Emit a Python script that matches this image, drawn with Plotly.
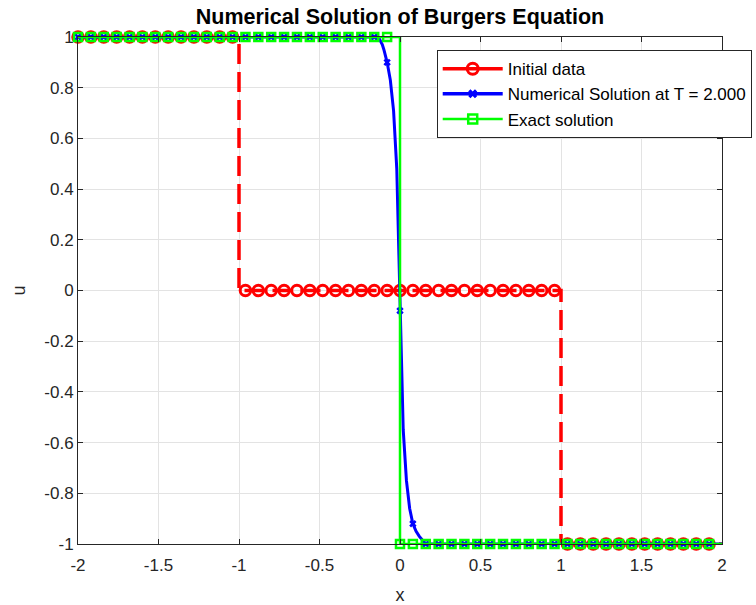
import numpy as np
import plotly.graph_objects as go

# Coarse grid where the markers sit (dx = 0.08, periodic domain [-2, 2))
grid_x = np.round(-2 + 0.08 * np.arange(50), 2)

# Initial data: Riemann-type step data
init_marker_u = [1.0] * 13 + [0.0] * 25 + [-1.0] * 12
init_line_x = [-2.0, -1.0, -1.0, 1.0, 1.0, 2.0]
init_line_u = [1.0, 1.0, 0.0, 0.0, -1.0, -1.0]

# Numerical solution at T = 2 (values on the coarse grid)
num_marker_u = [1.0] * 24 + [0.90, -0.08, -0.92] + [-1.0] * 23
# Resolved shock profile of the numerical solution
num_line_x = [-2.0, -0.16, -0.13, -0.11, -0.10, -0.08, -0.06, -0.04, -0.02,
              0.0, 0.02, 0.04, 0.06, 0.08, 0.10, 0.12, 0.14, 0.16, 2.0]
num_line_u = [1.0, 1.0, 0.995, 0.97, 0.95, 0.90, 0.83, 0.71, 0.48,
              -0.08, -0.55, -0.75, -0.86, -0.92, -0.95, -0.97, -0.985, -1.0, -1.0]

# Exact entropy solution at T = 2: stationary shock at x = 0
exact_marker_u = [1.0] * 25 + [-1.0] * 25
exact_line_x = [-2.0, 0.0, 0.0, 2.0]
exact_line_u = [1.0, 1.0, -1.0, -1.0]

x_ticks = [-2, -1.5, -1, -0.5, 0, 0.5, 1, 1.5, 2]
x_tick_text = ["-2", "-1.5", "-1", "-0.5", "0", "0.5", "1", "1.5", "2"]
y_ticks = [-1, -0.8, -0.6, -0.4, -0.2, 0, 0.2, 0.4, 0.6, 0.8, 1]
y_tick_text = ["-1", "-0.8", "-0.6", "-0.4", "-0.2", "0", "0.2", "0.4", "0.6", "0.8", "1"]

RED, BLUE, GREEN = "#ff0000", "#0000ff", "#00ff00"
AX = "#262626"
FONT = "Liberation Sans, Arial, Helvetica, sans-serif"

fig = go.Figure()

# Legend entries
fig.add_trace(go.Scatter(x=[None], y=[None], mode="lines+markers", name="Initial data",
                         line=dict(color=RED, width=3.5),
                         marker=dict(symbol="circle-open", size=11, color=RED, line=dict(width=3))))
fig.add_trace(go.Scatter(x=[None], y=[None], mode="lines+markers",
                         name="Numerical Solution at T = 2.000",
                         line=dict(color=BLUE, width=3.5),
                         marker=dict(symbol="x", size=8, color=BLUE)))
fig.add_trace(go.Scatter(x=[None], y=[None], mode="lines+markers", name="Exact solution",
                         line=dict(color=GREEN, width=2.5),
                         marker=dict(symbol="square-open", size=9, color=GREEN, line=dict(width=2.5))))

# Initial data
fig.add_trace(go.Scatter(x=init_line_x, y=init_line_u, mode="lines", showlegend=False,
                         line=dict(color=RED, width=3.5, dash="20px,8px"), cliponaxis=False))
fig.add_trace(go.Scatter(x=grid_x, y=init_marker_u, mode="markers", showlegend=False,
                         marker=dict(symbol="circle-open", size=10.5, color=RED, line=dict(width=3)),
                         cliponaxis=False))

# Numerical solution
fig.add_trace(go.Scatter(x=num_line_x, y=num_line_u, mode="lines", showlegend=False,
                         line=dict(color=BLUE, width=3), cliponaxis=False))
fig.add_trace(go.Scatter(x=grid_x, y=num_marker_u, mode="markers", showlegend=False,
                         marker=dict(symbol="x", size=6.5, color=BLUE), cliponaxis=False))

# Exact solution
fig.add_trace(go.Scatter(x=exact_line_x, y=exact_line_u, mode="lines", showlegend=False,
                         line=dict(color=GREEN, width=2.5), cliponaxis=False))
fig.add_trace(go.Scatter(x=grid_x, y=exact_marker_u, mode="markers", showlegend=False,
                         marker=dict(symbol="square-open", size=8, color=GREEN, line=dict(width=2.5)),
                         cliponaxis=False))

axis_common = dict(showline=True, linecolor=AX, linewidth=1, mirror="ticks",
                   ticks="inside", ticklen=5, tickcolor=AX, tickwidth=1,
                   showgrid=True, gridcolor="#e3e3e3", gridwidth=1, zeroline=False,
                   automargin=False,
                   tickfont=dict(family=FONT, size=17, color=AX))

fig.update_xaxes(range=[-2, 2], tickvals=x_ticks, ticktext=x_tick_text,
                 ticklabelstandoff=6,
                 title=dict(text="x", font=dict(family=FONT, size=18, color=AX), standoff=16),
                 **axis_common)
fig.update_yaxes(range=[-1, 1], tickvals=y_ticks, ticktext=y_tick_text,
                 title=dict(text="u", font=dict(family=FONT, size=18, color=AX), standoff=14),
                 **axis_common)

fig.update_layout(
    width=756, height=605,
    margin=dict(l=78, r=34, t=37, b=61, autoexpand=False),
    paper_bgcolor="white", plot_bgcolor="white",
    title=dict(text="<b>Numerical Solution of Burgers Equation</b>",
               x=0.5, xref="paper", xanchor="center", y=0.972, yanchor="middle",
               font=dict(family=FONT, size=21.5, color="#000000")),
    legend=dict(x=0.557, y=0.974, xanchor="left", yanchor="top",
                bgcolor="white", bordercolor=AX, borderwidth=1,
                font=dict(family=FONT, size=17, color="#000000"),
                itemwidth=60, tracegroupgap=0),
    showlegend=True,
)

fig.write_html("out.html")
